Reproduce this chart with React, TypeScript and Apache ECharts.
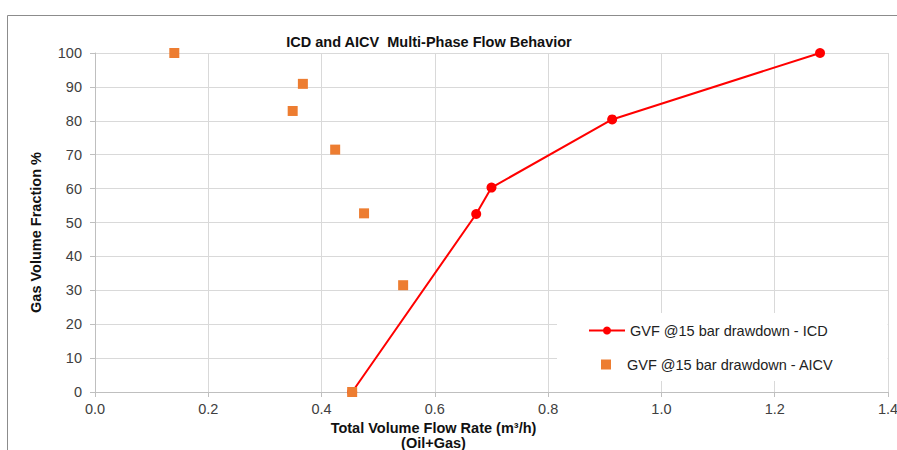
import React, { useEffect, useRef } from "react";
import * as echarts from "echarts";

// ICD curve: total flow rate (m³/h) vs gas volume fraction (%)
const icdRate = [0.454, 0.673, 0.7, 0.913, 1.28];
const icdGvf = [0, 52.5, 60.3, 80.4, 100];

// AICV measurements
const aicvRate = [0.14, 0.367, 0.349, 0.424, 0.475, 0.544, 0.454];
const aicvGvf = [100, 90.9, 82.9, 71.5, 52.7, 31.5, 0];

const icdName = "GVF @15 bar drawdown - ICD";
const aicvName = "GVF @15 bar drawdown - AICV";

const FONT = "'Liberation Sans', Arial, sans-serif";
const FS = 14.5;

export default function App() {
  const ref = useRef<HTMLDivElement>(null);

  useEffect(() => {
    if (!ref.current) return;
    const chart = echarts.init(ref.current, undefined, { renderer: "svg" });

    const icdData = icdRate.map((x, i) => [x, icdGvf[i]]);
    const aicvData = aicvRate.map((x, i) => [x, aicvGvf[i]]);

    chart.setOption({
      animation: false,
      backgroundColor: "#ffffff",
      textStyle: { fontFamily: FONT },
      title: {
        text: "ICD and AICV  Multi-Phase Flow Behavior",
        left: 424,
        textAlign: "center",
        top: 29,
        textStyle: { fontFamily: FONT, fontSize: FS, fontWeight: "bold", color: "#111" },
      },
      grid: { left: 95, right: 9, top: 53, bottom: 58, outerBoundsMode: "none" },
      xAxis: {
        type: "value",
        min: 0,
        max: 1.4,
        interval: 0.2,
        name: "Total Volume Flow Rate (m³/h)\n(Oil+Gas)",
        nameLocation: "middle",
        nameGap: 26,
        nameTextStyle: {
          fontFamily: FONT,
          fontSize: FS,
          fontWeight: "bold",
          color: "#111",
          lineHeight: 15,
          verticalAlign: "top",
          padding: [0, 116, 0, 0],
        },
        axisLine: { lineStyle: { color: "#bfbfbf", width: 1 } },
        axisTick: { show: true, length: 5, lineStyle: { color: "#bfbfbf" } },
        axisLabel: {
          fontFamily: FONT,
          fontSize: FS,
          color: "#404040",
          margin: 9,
          formatter: (v: number) => v.toFixed(1),
        },
        splitLine: { show: true, lineStyle: { color: "#d9d9d9", width: 1 } },
      },
      yAxis: {
        type: "value",
        min: 0,
        max: 100,
        interval: 10,
        name: "Gas Volume Fraction %",
        nameLocation: "middle",
        nameGap: 52,
        nameTextStyle: {
          fontFamily: FONT,
          fontSize: FS,
          fontWeight: "bold",
          color: "#111",
          padding: [0, 20, 0, 0],
        },
        axisLine: { show: true, lineStyle: { color: "#bfbfbf", width: 1 } },
        axisTick: { show: true, length: 5, lineStyle: { color: "#bfbfbf" } },
        axisLabel: { fontFamily: FONT, fontSize: FS, color: "#404040", margin: 13 },
        splitLine: { show: true, lineStyle: { color: "#d9d9d9", width: 1 } },
      },
      legend: [
        {
          data: [{ name: icdName }],
          left: 557,
          top: 313,
          orient: "vertical",
          padding: [10, 60, 43, 31],
          backgroundColor: "#ffffff",
          itemWidth: 36,
          itemHeight: 10,
          selectedMode: false,
          textStyle: { fontFamily: FONT, fontSize: FS, color: "#222" },
        },
        {
          data: [{ name: aicvName }],
          left: 601,
          top: 357,
          padding: 0,
          itemWidth: 10,
          itemHeight: 10,
          selectedMode: false,
          textStyle: {
            fontFamily: FONT,
            fontSize: FS,
            color: "#222",
            padding: [0, 0, 0, 11],
          },
        },
      ],
      graphic: [
        {
          type: "polyline",
          silent: true,
          shape: { points: [[7.5, 450], [7.5, 15.5], [897, 15.5]] },
          style: { stroke: "#8c8c8c", lineWidth: 1, fill: "none" },
        },
      ],
      series: [
        {
          name: icdName,
          type: "line",
          data: icdData,
          z: 2,
          symbol: "circle",
          symbolSize: 10,
          itemStyle: { color: "#ff0000", opacity: 1 },
          lineStyle: { color: "#ff0000", width: 2 },
        },
        {
          name: aicvName,
          type: "scatter",
          data: aicvData,
          z: 3,
          symbol: "rect",
          symbolSize: 10,
          itemStyle: { color: "#ed7d31", opacity: 1 },
        },
      ],
    });

    return () => chart.dispose();
  }, []);

  return (
    <div
      ref={ref}
      style={{ position: "absolute", left: 0, top: 0, width: 897, height: 450, background: "#fff" }}
    />
  );
}
